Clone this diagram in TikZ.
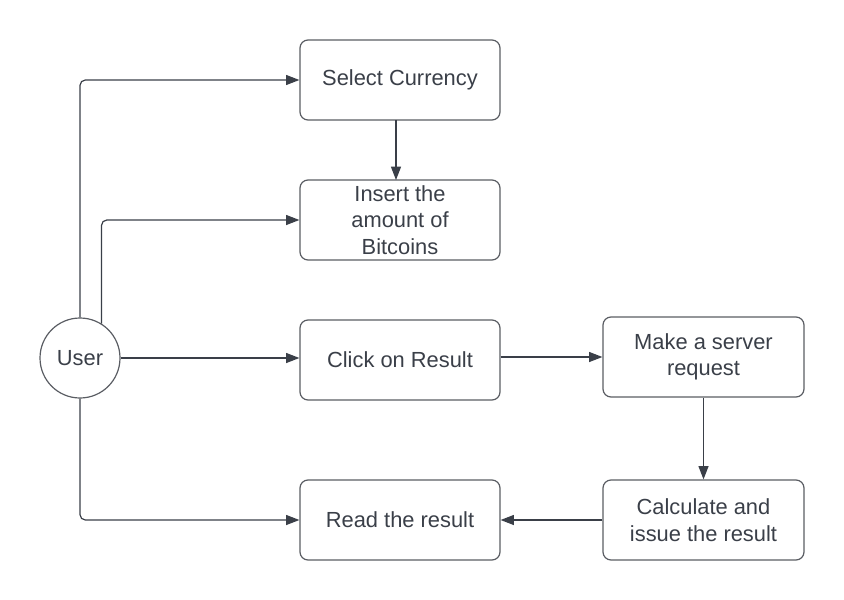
\documentclass[tikz,border=0pt]{standalone}
\usepackage{fontspec}
\setmainfont{Liberation Sans}
\usetikzlibrary{arrows.meta}
\definecolor{ink}{HTML}{3A3F48}
\definecolor{edge}{HTML}{5A5D63}
\begin{document}
\begin{tikzpicture}[x=0.75pt,y=-0.75pt,
  box/.style={draw=edge,line width=0.9pt,rounded corners=6pt,minimum width=150pt,minimum height=60pt,
    align=center,text=ink,font=\fontsize{16.4}{19.9}\selectfont,inner sep=0pt},
  usr/.style={draw=edge,line width=0.9pt,circle,minimum size=60pt,inner sep=0pt,text=ink,
    font=\fontsize{16.4}{19.9}\selectfont},
  conn/.style={draw=ink,line width=0.9pt,rounded corners=4pt,-{Triangle[length=10pt,width=7.5pt]}}]
\useasboundingbox (0,0) rectangle (844,600);
\node[usr] (u) at (80,358) {User};
\node[box] (sel) at (400,80) {Select Currency};
\node[box] (ins) at (400,220) {Insert the\\amount of\\Bitcoins};
\node[box] (clk) at (400,360) {Click on Result};
\node[box] (rd) at (400,520) {Read the result};
\node[box,minimum width=150.75pt] (mk) at (703.5,357) {Make a server\\request};
\node[box,minimum width=150.75pt] (calc) at (703.5,520) {Calculate and\\issue the result};
\draw[conn] (u.north) |- (sel.west);
\draw[conn] (u.58.3) |- (ins.west);
\draw[conn] (u.east) -- (u.east -| clk.west);
\draw[conn] (clk.east |- mk.west) -- (mk.west);
\draw[conn] (396,120) -- (396,180);
\draw[conn] (mk.south) -- (calc.north);
\draw[conn] (calc.west) -- (rd.east);
\draw[conn] (u.south) |- (rd.west);
\end{tikzpicture}
\end{document}
